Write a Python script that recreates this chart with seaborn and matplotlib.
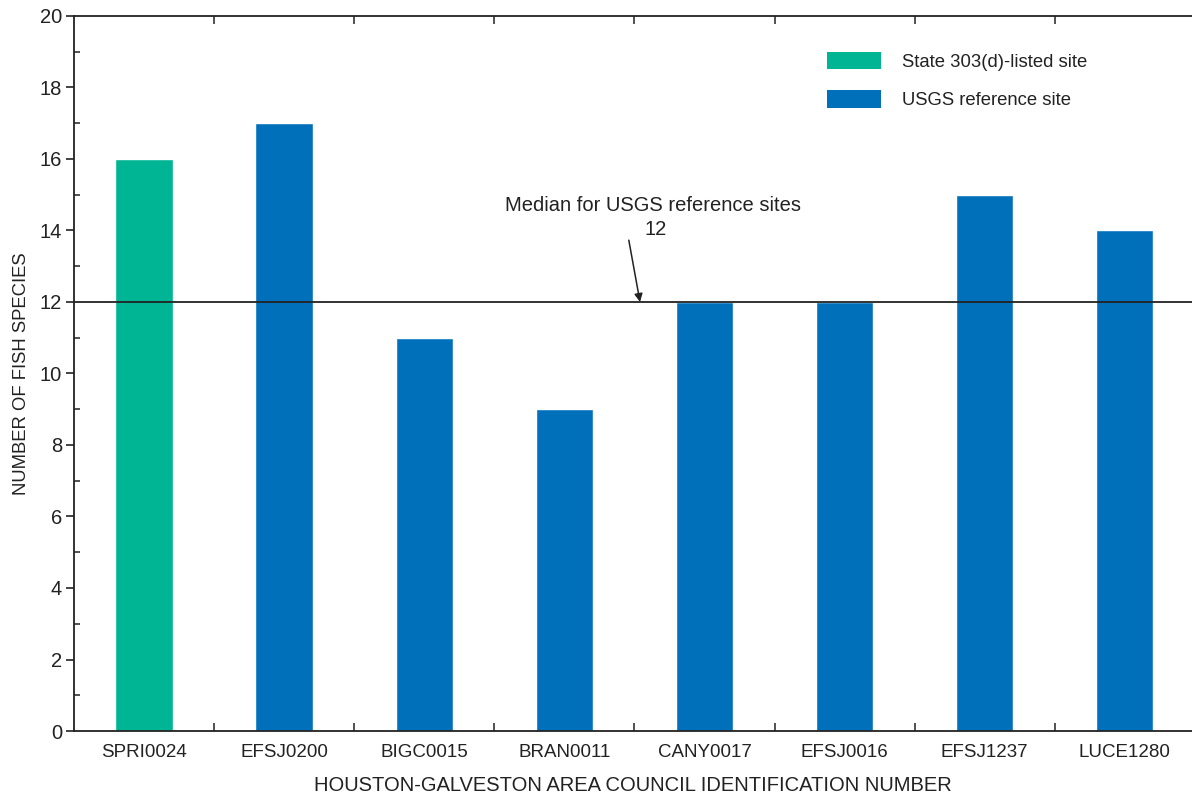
import matplotlib
matplotlib.use("Agg")
import matplotlib.pyplot as plt
from matplotlib.patches import Patch
from matplotlib.ticker import MultipleLocator, FixedLocator
import seaborn as sns
import pandas as pd

# Fish species counts per Houston-Galveston Area Council site
sites = ["SPRI0024", "EFSJ0200", "BIGC0015", "BRAN0011",
         "CANY0017", "EFSJ0016", "EFSJ1237", "LUCE1280"]
species = [16, 17, 11, 9, 12, 12, 15, 14]
site_type = ["State 303(d)-listed site"] + ["USGS reference site"] * 7
type_order = ["State 303(d)-listed site", "USGS reference site"]
type_colors = ["#00B594", "#0070BA"]
median_reference = 12

sns.set_theme(style="white")
plt.rcParams["font.family"] = ["Liberation Sans", "DejaVu Sans"]
plt.rcParams["font.size"] = 13

df = pd.DataFrame({"site": sites, "species": species, "type": site_type})
palette = dict(zip(type_order, type_colors))

fig = plt.figure(figsize=(11.92, 7.95), dpi=100)
ax = fig.add_axes([0.0621, 0.0805, 0.9379, 0.8994])

sns.barplot(data=df, x="site", y="species", hue="type", hue_order=type_order,
            palette=palette, dodge=False, width=0.41, saturation=1,
            order=sites, ax=ax, legend=False)

ax.set_xlim(-0.5, 7.48)
ax.set_ylim(0, 20)

# median line for the reference sites
ax.axhline(median_reference, color="#222222", lw=1.3, zorder=3)
ax.annotate("", xy=(3.54, median_reference), xytext=(3.46, 13.73),
            arrowprops=dict(arrowstyle="-|>", color="#222222", lw=1.1,
                            mutation_scale=12, shrinkA=0, shrinkB=0))
ax.text(3.63, 14.71, "Median for USGS reference sites", ha="center",
        va="center", fontsize=14.5, color="#222222")
ax.text(3.65, 14.04, str(median_reference), ha="center", va="center",
        fontsize=14.5, color="#222222")

# spines
for s in ["left", "bottom", "top"]:
    ax.spines[s].set_visible(True)
    ax.spines[s].set_color("#222222")
    ax.spines[s].set_linewidth(1.3)
ax.spines["right"].set_visible(False)

# y ticks: majors outward, minors inward
ax.yaxis.set_major_locator(MultipleLocator(2))
ax.yaxis.set_minor_locator(MultipleLocator(1))
ax.tick_params(axis="y", which="major", direction="out", length=6, width=1.2,
               pad=2.5, color="#222222", labelsize=14.5, labelcolor="#222222",
               left=True)
ax.tick_params(axis="y", which="minor", direction="in", length=4, width=1.1,
               color="#222222", left=True)

# x ticks: labels at bar centres, separator ticks between sites
ax.xaxis.set_minor_locator(FixedLocator([i + 0.5 for i in range(len(sites) - 1)]))
ax.tick_params(axis="x", which="major", length=0, labelsize=13.5,
               labelcolor="#222222", pad=9)
ax.tick_params(axis="x", which="minor", direction="in", length=6, width=1.1,
               color="#222222", bottom=True, top=True)

ax.set_xlabel("HOUSTON-GALVESTON AREA COUNCIL IDENTIFICATION NUMBER",
              fontsize=14.5, color="#222222", labelpad=11)
ax.set_ylabel("NUMBER OF FISH SPECIES", fontsize=13.3, color="#222222",
              labelpad=7)

handles = [Patch(facecolor=c, edgecolor="none") for c in type_colors]
ax.legend(handles, type_order, loc="upper left", bbox_to_anchor=(0.659, 0.973),
          frameon=False, fontsize=13.3, handlelength=2.92, handleheight=1.08,
          handletextpad=1.1, labelspacing=1.05, labelcolor="#222222")

fig.savefig("out.png", dpi=100)
